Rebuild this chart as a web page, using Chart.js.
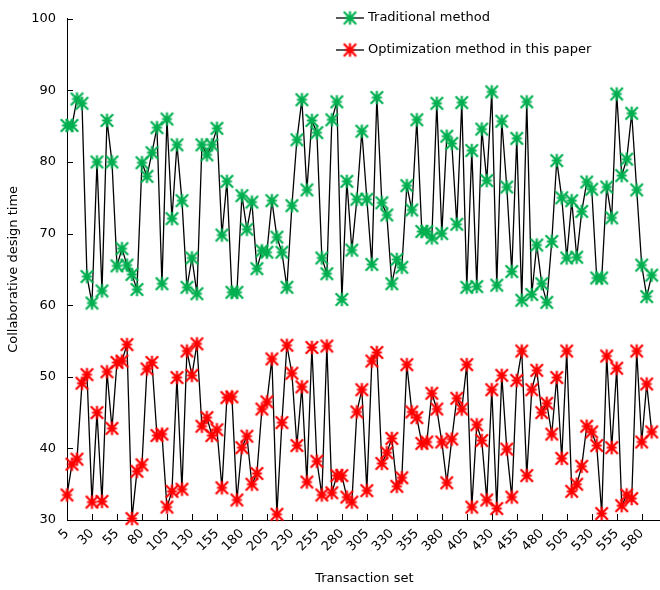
<!DOCTYPE html>
<html>
<head>
<meta charset="utf-8">
<script src="https://cdn.jsdelivr.net/npm/chart.js@4.4.1/dist/chart.umd.min.js"></script>
<style>
  html, body { margin: 0; padding: 0; background: #fff; overflow: hidden; width: 660px; height: 590px; }
  #wrap { position: absolute; left: 0; top: 0; width: 670px; height: 590px; }
</style>
</head>
<body>
<div id="wrap"><canvas id="c" width="670" height="590"></canvas></div>
<script>
// Transaction set (x categories)
const transactionSets = [5,10,15,20,25,30,35,40,45,50,55,60,65,70,75,80,85,90,95,100,
  105,110,115,120,125,130,135,140,145,150,155,160,165,170,175,180,185,190,195,200,
  205,210,215,220,225,230,235,240,245,250,255,260,265,270,275,280,285,290,295,300,
  305,310,315,320,325,330,335,340,345,350,355,360,365,370,375,380,385,390,395,400,
  405,410,415,420,425,430,435,440,445,450,455,460,465,470,475,480,485,490,495,500,
  505,510,515,520,525,530,535,540,545,550,555,560,565,570,575,580,585,590,595,600];

// Labelled x ticks
const xTickLabels = ['5','30','55','80','105','130','155','180','205','230','255','280',
  '305','330','355','380','405','430','455','480','505','530','555','580'];

// Traditional method (green)
const traditionalMethod = [85.1,85.1,88.8,88.2,64.0,60.3,80.0,62.0,85.8,80.0,
  65.5,67.9,65.6,64.3,62.2,79.9,78.0,81.3,84.8,63.0,
  86.0,72.1,82.4,74.6,62.5,66.6,61.6,82.4,81.0,82.4,
  84.7,69.8,77.3,61.8,61.8,75.3,70.6,74.4,65.1,67.6,
  67.4,74.6,69.5,67.4,62.5,73.9,83.1,88.7,76.1,85.8,
  84.1,66.6,64.4,85.9,88.4,60.8,77.3,67.7,74.8,84.3,
  74.8,65.7,89.0,74.3,72.6,63.0,66.4,65.3,76.7,73.3,
  85.9,70.3,70.3,69.4,88.2,70.0,83.6,82.6,71.3,88.3,
  62.5,81.6,62.6,84.6,77.4,89.8,62.8,85.7,76.5,64.7,
  83.3,60.7,88.4,61.5,68.4,63.0,60.4,68.9,80.2,75.0,
  66.6,74.6,66.7,73.1,77.2,76.2,63.8,63.8,76.5,72.2,
  89.5,78.1,80.4,86.8,76.1,65.6,61.2,64.2];

// Optimization method in this paper (red)
const optimizationMethod = [33.5,37.8,38.5,49.1,50.3,32.5,45.0,32.6,50.7,42.8,
  52.0,52.2,54.5,30.2,36.8,37.7,51.1,52.0,41.8,42.0,
  31.8,34.0,49.9,34.3,53.6,50.2,54.6,43.1,44.3,41.8,
  42.6,34.5,47.1,47.2,32.8,40.1,41.7,35.0,36.5,45.5,
  46.5,52.5,30.8,43.6,54.4,50.5,40.4,48.6,35.3,54.1,
  38.2,33.5,54.3,33.8,36.2,36.2,33.2,32.5,45.1,48.2,
  34.1,52.2,53.4,37.9,39.4,41.4,34.7,35.9,51.7,45.1,
  44.3,40.7,40.9,47.7,45.5,40.9,35.2,41.3,47.0,45.5,
  51.7,31.8,43.3,41.1,32.8,48.2,31.6,50.2,39.9,33.2,
  49.5,53.6,36.2,48.2,50.9,45.0,46.3,42.0,49.9,38.6,
  53.6,34.0,35.0,37.5,43.1,42.3,40.4,30.9,52.9,40.1,
  51.2,32.0,33.5,33.0,53.6,40.9,49.0,42.3];

const FONT = 'DejaVu Sans, Verdana, sans-serif';
const GREEN = '#00B050';
const RED = '#FF0000';

// asterisk marker (MATLAB-like '*')
function makeMarker(color) {
  const s = 17, c = s / 2;
  const cv = document.createElement('canvas');
  cv.width = s; cv.height = s;
  const g = cv.getContext('2d');
  g.strokeStyle = color;
  g.lineWidth = 2.2;
  g.lineCap = 'butt';
  const d = 6.2, v = 6.8, h = 5.0;
  g.beginPath();
  g.moveTo(c - d, c - d); g.lineTo(c + d, c + d);
  g.moveTo(c + d, c - d); g.lineTo(c - d, c + d);
  g.moveTo(c, c - v); g.lineTo(c, c + v);
  g.moveTo(c - h, c); g.lineTo(c + h, c);
  g.stroke();
  return cv;
}
const greenMarker = makeMarker(GREEN);
const redMarker = makeMarker(RED);

const inwardTicks = {
  id: 'inwardTicks',
  afterDatasetsDraw(chart) {
    const { ctx, chartArea, scales: { x, y } } = chart;
    ctx.save();
    ctx.strokeStyle = '#000';
    ctx.lineWidth = 1;
    x.ticks.forEach((t, i) => {
      if (t.label === null || t.label === undefined || t.label === '') return;
      const px = Math.round(x.getPixelForTick(i)) + 0.5;
      ctx.beginPath();
      ctx.moveTo(px, chartArea.bottom);
      ctx.lineTo(px, chartArea.bottom - 6);
      ctx.stroke();
    });
    y.ticks.forEach((t, i) => {
      const py = Math.round(y.getPixelForTick(i)) + 0.5;
      ctx.beginPath();
      ctx.moveTo(chartArea.left, py);
      ctx.lineTo(chartArea.left + 6, py);
      ctx.stroke();
    });
    ctx.restore();
  }
};

const boxLegend = {
  id: 'boxLegend',
  afterDraw(chart) {
    const { ctx } = chart;
    ctx.save();
    chart.data.datasets.forEach((ds, i) => {
      const yy = 18 + i * 32;
      ctx.strokeStyle = ds.borderColor;
      ctx.lineWidth = ds.borderWidth;
      ctx.beginPath();
      ctx.moveTo(336, yy);
      ctx.lineTo(364, yy);
      ctx.stroke();
      const m = ds.pointStyle;
      ctx.drawImage(m, 350 - m.width / 2, yy - m.height / 2);
      ctx.fillStyle = '#000';
      ctx.font = '13px ' + FONT;
      ctx.textBaseline = 'middle';
      ctx.textAlign = 'left';
      ctx.fillText(ds.label, 368, yy);
    });
    ctx.restore();
  }
};

new Chart(document.getElementById('c'), {
  type: 'line',
  data: {
    labels: transactionSets.map(String),
    datasets: [
      {
        label: 'Traditional method',
        data: traditionalMethod,
        borderColor: '#000',
        borderWidth: 1.3,
        pointStyle: greenMarker,
        pointRadius: 7,
        tension: 0,
        clip: false
      },
      {
        label: 'Optimization method in this paper',
        data: optimizationMethod,
        borderColor: '#000',
        borderWidth: 1.3,
        pointStyle: redMarker,
        pointRadius: 7,
        tension: 0,
        clip: false
      }
    ]
  },
  options: {
    responsive: false,
    animation: false,
    events: [],
    layout: { padding: { top: 12, right: 1, left: 0, bottom: 0 } },
    plugins: { legend: { display: false }, tooltip: { enabled: false } },
    scales: {
      x: {
        type: 'category',
        offset: false,
        grid: { display: true, drawOnChartArea: false, drawTicks: false },
        border: { display: true, color: '#000', width: 1 },
        ticks: {
          autoSkip: false,
          maxRotation: 45,
          minRotation: 45,
          padding: 6,
          color: '#000',
          font: { family: FONT, size: 13 },
          callback: function (v) {
            const l = this.getLabelForValue(v);
            return xTickLabels.includes(l) ? l : null;
          }
        },
        title: { display: true, text: 'Transaction set', color: '#000', font: { family: FONT, size: 13 }, padding: { top: 2, bottom: 4 } },
        afterFit(s) { s.height = 70; }
      },
      y: {
        min: 30,
        max: 100,
        grid: { display: true, drawOnChartArea: false, drawTicks: false },
        border: { display: true, color: '#000', width: 1 },
        ticks: { stepSize: 10, padding: 11, color: '#000', font: { family: FONT, size: 13 } },
        title: { display: true, text: 'Collaborative design time', color: '#000', font: { family: FONT, size: 13 }, padding: { top: 6, bottom: 4 } },
        afterFit(s) { s.width = 67; }
      }
    }
  },
  plugins: [inwardTicks, boxLegend]
});
</script>
</body>
</html>
